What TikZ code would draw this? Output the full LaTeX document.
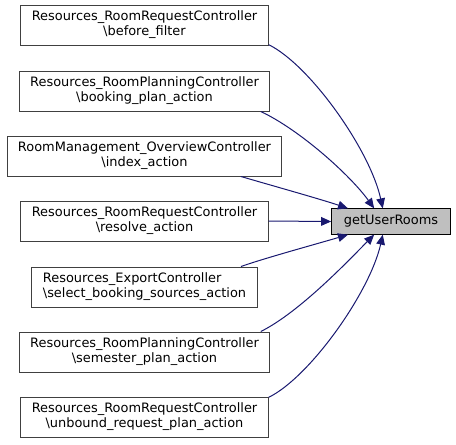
\documentclass[tikz,border=0pt]{standalone}
\usepackage{fontspec}
\setmainfont{DejaVu Sans}
\usepackage{tikz}
\usetikzlibrary{arrows.meta}
\definecolor{edgeblue}{HTML}{191970}
\definecolor{boxline}{HTML}{404040}
\definecolor{focusbg}{HTML}{BFBFBF}
\tikzset{
  caller/.style={draw=boxline, line width=0.75pt, align=center, minimum height=30pt, inner xsep=8.2pt, inner ysep=2pt},
  focus/.style={draw=black, line width=0.75pt, fill=focusbg, minimum width=89pt, minimum height=19pt, inner sep=2pt},
  call/.style={-{Triangle[length=7.5pt, width=6.5pt]}, draw=edgeblue, line width=0.75pt}
}

\begin{document}
\begin{tikzpicture}[x=0.75pt, y=-0.75pt, font=\fontsize{9.7}{11.25}\selectfont]
  \useasboundingbox (0,0) rectangle (456,444);

  \node[focus] (rooms) at (391,221.5) {getUserRooms};

  \node[caller] (rrbefore) at (144.5,25) {Resources\_RoomRequestController\\\textbackslash before\_filter};
  \node[caller] (rpbook) at (144.5,91) {Resources\_RoomPlanningController\\\textbackslash booking\_plan\_action};
  \node[caller] (rmindex) at (144.5,156) {RoomManagement\_OverviewController\\\textbackslash index\_action};
  \node[caller] (rrresolve) at (144.5,221) {Resources\_RoomRequestController\\\textbackslash resolve\_action};
  \node[caller, align=left] (exsources) at (144.5,287) {Resources\_ExportController\\\textbackslash select\_booking\_sources\_action};
  \node[caller] (rpsemester) at (144.5,352) {Resources\_RoomPlanningController\\\textbackslash semester\_plan\_action};
  \node[caller] (rrunbound) at (144.5,417) {Resources\_RoomRequestController\\\textbackslash unbound\_request\_plan\_action};

  \draw[call] (rrbefore.-9.6) .. controls (310,65) and (370,150) .. (rooms.122.6);
  \draw[call] (rpbook.-10.1) .. controls (300,130) and (350,175) .. (rooms.142);
  \draw[call] (rmindex.-12.2) .. controls (270,185) and (320,199) .. (rooms.163);
  \draw[call] (rrresolve.east) -- (rooms.west);
  \draw[call] (exsources.12.7) .. controls (265,258) and (320,243) .. (rooms.-163);
  \draw[call] (rpsemester.10.4) .. controls (300,312) and (350,259) .. (rooms.-142);
  \draw[call] (rrunbound.9.8) .. controls (310,377) and (370,292) .. (rooms.-122.6);
\end{tikzpicture}
\end{document}
